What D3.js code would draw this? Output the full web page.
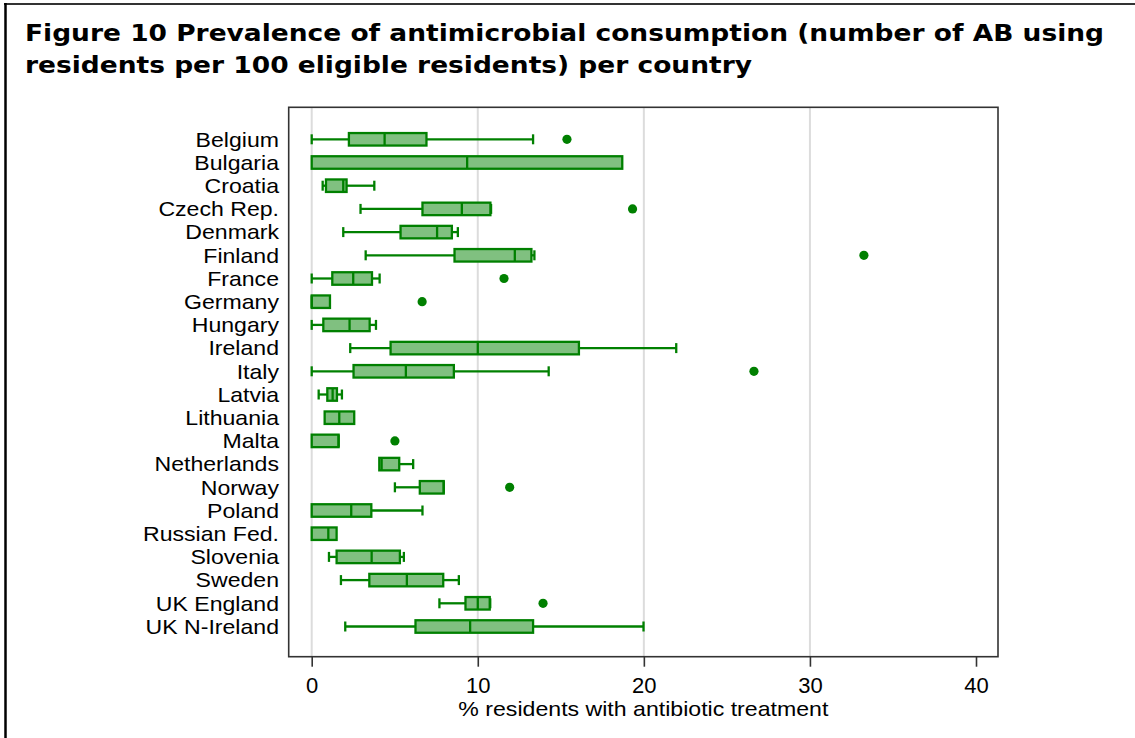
<!DOCTYPE html>
<html>
<head>
<meta charset="utf-8">
<script src="https://cdn.jsdelivr.net/npm/d3@7"></script>
<style>
  html, body { margin: 0; padding: 0; background: #fff; }
  svg { display: block; }
</style>
</head>
<body>
<svg id="chart" width="1135" height="738"></svg>
<script>
// Countries, top to bottom
const countries = ["Belgium", "Bulgaria", "Croatia", "Czech Rep.", "Denmark", "Finland",
  "France", "Germany", "Hungary", "Ireland", "Italy", "Latvia", "Lithuania", "Malta",
  "Netherlands", "Norway", "Poland", "Russian Fed.", "Slovenia", "Sweden",
  "UK England", "UK N-Ireland"];

// Box-plot statistics (% residents with antibiotic treatment)
const lowerAdjacent = [0, 0, 0.66, 2.94, 1.90, 3.25, 0, 0, 0, 2.32, 0, 0.42, 0.78, 0,
  4.07, 5.01, 0, 0, 1.04, 1.76, 7.69, 2.02];
const q1Values = [2.24, 0, 0.86, 6.67, 5.35, 8.60, 1.24, 0, 0.70, 4.75, 2.52, 0.94, 0.78, 0,
  4.07, 6.51, 0, 0, 1.50, 3.47, 9.26, 6.25];
const medianValues = [4.39, 9.36, 1.90, 9.04, 7.55, 12.23, 2.50, 0, 2.28, 10.0, 5.67, 1.26, 1.66, 1.62,
  4.21, 7.95, 2.38, 1.00, 3.61, 5.73, 10.0, 9.54];
const q3Values = [6.91, 18.70, 2.10, 10.76, 8.44, 13.23, 3.63, 1.10, 3.49, 16.09, 8.56, 1.52, 2.56, 1.62,
  5.27, 7.95, 3.59, 1.50, 5.31, 7.92, 10.72, 13.33];
const upperAdjacent = [13.33, 18.70, 3.77, 10.80, 8.80, 13.41, 4.09, 1.10, 3.87, 21.95, 14.27, 1.82, 2.56, 1.62,
  6.11, 7.95, 6.67, 1.50, 5.55, 8.86, 10.75, 19.98];

// Outside values
const outlierCountries = ["Belgium", "Czech Rep.", "Finland", "France", "Germany", "Italy", "Malta", "Norway", "UK England"];
const outlierValues = [15.37, 19.32, 33.25, 11.58, 6.65, 26.63, 5.01, 11.92, 13.93];

// Axis
const xTicks = [0, 10, 20, 30, 40];
const xGrid = [0, 10, 20, 30];
const xTitle = "% residents with antibiotic treatment";
const titleLines = [
  "Figure 10 Prevalence of antimicrobial consumption (number of AB using",
  "residents per 100 eligible residents) per country"
];

const svg = d3.select("#chart");
const green = "#008000";
const boxFill = "#80c080";
const labelFont = "'Liberation Sans', Arial, sans-serif";

// Stretch a text element horizontally by the given factor
function widen(sel, factor) {
  sel.each(function () {
    const len = this.getComputedTextLength();
    d3.select(this).attr("textLength", len * factor).attr("lengthAdjust", "spacingAndGlyphs");
  });
}

// Outer frame: top and left rules
svg.append("line").attr("x1", 4).attr("x2", 1135).attr("y1", 4).attr("y2", 4)
  .attr("stroke", "#333").attr("stroke-width", 2);
svg.append("line").attr("x1", 5.5).attr("x2", 5.5).attr("y1", 3).attr("y2", 738)
  .attr("stroke", "#000").attr("stroke-width", 2.5);

// Title, widened so the first line spans to x = 1104
const titleSel = svg.append("g").selectAll("text").data(titleLines).join("text")
  .attr("x", 25).attr("y", (d, i) => 41 + i * 32)
  .attr("font-family", "'DejaVu Sans', Verdana, sans-serif")
  .attr("font-weight", "bold")
  .attr("font-size", 23)
  .attr("fill", "#000")
  .text(d => d);
const titleStretch = 1079 / titleSel.node().getComputedTextLength();
titleSel.call(widen, titleStretch);

// Plot area
const plot = { left: 288.7, right: 998, top: 107.3, bottom: 656.7 };
const x = d3.scaleLinear().domain([0, 40]).range([311.7, 976]);
const y = d3.scalePoint().domain(countries).range([139.3, 626.5]);

// Grid lines
svg.append("g").selectAll("line").data(xGrid).join("line")
  .attr("x1", d => x(d)).attr("x2", d => x(d))
  .attr("y1", plot.top).attr("y2", plot.bottom)
  .attr("stroke", "#dcdcdc").attr("stroke-width", 2);

// Boxes
const rows = countries.map((c, i) => ({
  c, lo: lowerAdjacent[i], q1: q1Values[i], med: medianValues[i], q3: q3Values[i], hi: upperAdjacent[i]
}));
const boxH = 12.5, capH = 10;
const sw = 2.3;
const g = svg.append("g");

// Whiskers
g.selectAll(".wlo").data(rows.filter(d => d.lo < d.q1)).join("line")
  .attr("x1", d => x(d.lo)).attr("x2", d => x(d.q1))
  .attr("y1", d => y(d.c)).attr("y2", d => y(d.c))
  .attr("stroke", green).attr("stroke-width", sw);
g.selectAll(".whi").data(rows.filter(d => d.hi > d.q3)).join("line")
  .attr("x1", d => x(d.q3)).attr("x2", d => x(d.hi))
  .attr("y1", d => y(d.c)).attr("y2", d => y(d.c))
  .attr("stroke", green).attr("stroke-width", sw);
// Whisker caps
g.selectAll(".caplo").data(rows.filter(d => d.lo < d.q1)).join("line")
  .attr("x1", d => x(d.lo)).attr("x2", d => x(d.lo))
  .attr("y1", d => y(d.c) - capH / 2).attr("y2", d => y(d.c) + capH / 2)
  .attr("stroke", green).attr("stroke-width", sw);
g.selectAll(".caphi").data(rows.filter(d => d.hi > d.q3)).join("line")
  .attr("x1", d => x(d.hi)).attr("x2", d => x(d.hi))
  .attr("y1", d => y(d.c) - capH / 2).attr("y2", d => y(d.c) + capH / 2)
  .attr("stroke", green).attr("stroke-width", sw);

// Interquartile boxes
g.selectAll("rect").data(rows).join("rect")
  .attr("x", d => x(d.q1)).attr("width", d => Math.max(0, x(d.q3) - x(d.q1)))
  .attr("y", d => y(d.c) - boxH / 2).attr("height", boxH)
  .attr("fill", boxFill).attr("stroke", green).attr("stroke-width", sw);

// Medians
g.selectAll(".med").data(rows).join("line")
  .attr("x1", d => x(d.med)).attr("x2", d => x(d.med))
  .attr("y1", d => y(d.c) - boxH / 2).attr("y2", d => y(d.c) + boxH / 2)
  .attr("stroke", green).attr("stroke-width", sw);

// Outside values
g.selectAll("circle").data(outlierCountries.map((c, i) => ({ c, v: outlierValues[i] }))).join("circle")
  .attr("cx", d => x(d.v)).attr("cy", d => y(d.c)).attr("r", 4.6)
  .attr("fill", green);

// Plot frame
svg.append("rect")
  .attr("x", plot.left).attr("y", plot.top)
  .attr("width", plot.right - plot.left).attr("height", plot.bottom - plot.top)
  .attr("fill", "none").attr("stroke", "#333").attr("stroke-width", 1.6);

// Category labels, widened so "Russian Fed." spans about 136px
const labels = svg.append("g").selectAll("text").data(countries).join("text")
  .attr("x", 279).attr("y", d => y(d) + 7.3)
  .attr("text-anchor", "end")
  .attr("font-family", labelFont).attr("font-size", 20.3).attr("fill", "#000")
  .text(d => d);
const labelStretch = 136 / labels.filter(d => d === "Russian Fed.").node().getComputedTextLength();
labels.call(widen, labelStretch);

// x axis
const xAxis = d3.axisBottom(x).tickValues(xTicks).tickSize(10).tickPadding(6).tickFormat(d3.format("d"));
const ax = svg.append("g").attr("transform", `translate(0,${plot.bottom})`).call(xAxis);
ax.select(".domain").remove();
ax.selectAll(".tick line").attr("stroke", "#333").attr("stroke-width", 1.6);
ax.selectAll(".tick text")
  .attr("font-family", labelFont).attr("font-size", 22).attr("fill", "#000")
  .attr("dy", null).attr("y", 36);

// x axis title
svg.append("text")
  .attr("x", (plot.left + plot.right) / 2).attr("y", 716)
  .attr("text-anchor", "middle")
  .attr("font-family", labelFont).attr("font-size", 21).attr("fill", "#000")
  .text(xTitle)
  .attr("textLength", 370).attr("lengthAdjust", "spacingAndGlyphs");
</script>
</body>
</html>
